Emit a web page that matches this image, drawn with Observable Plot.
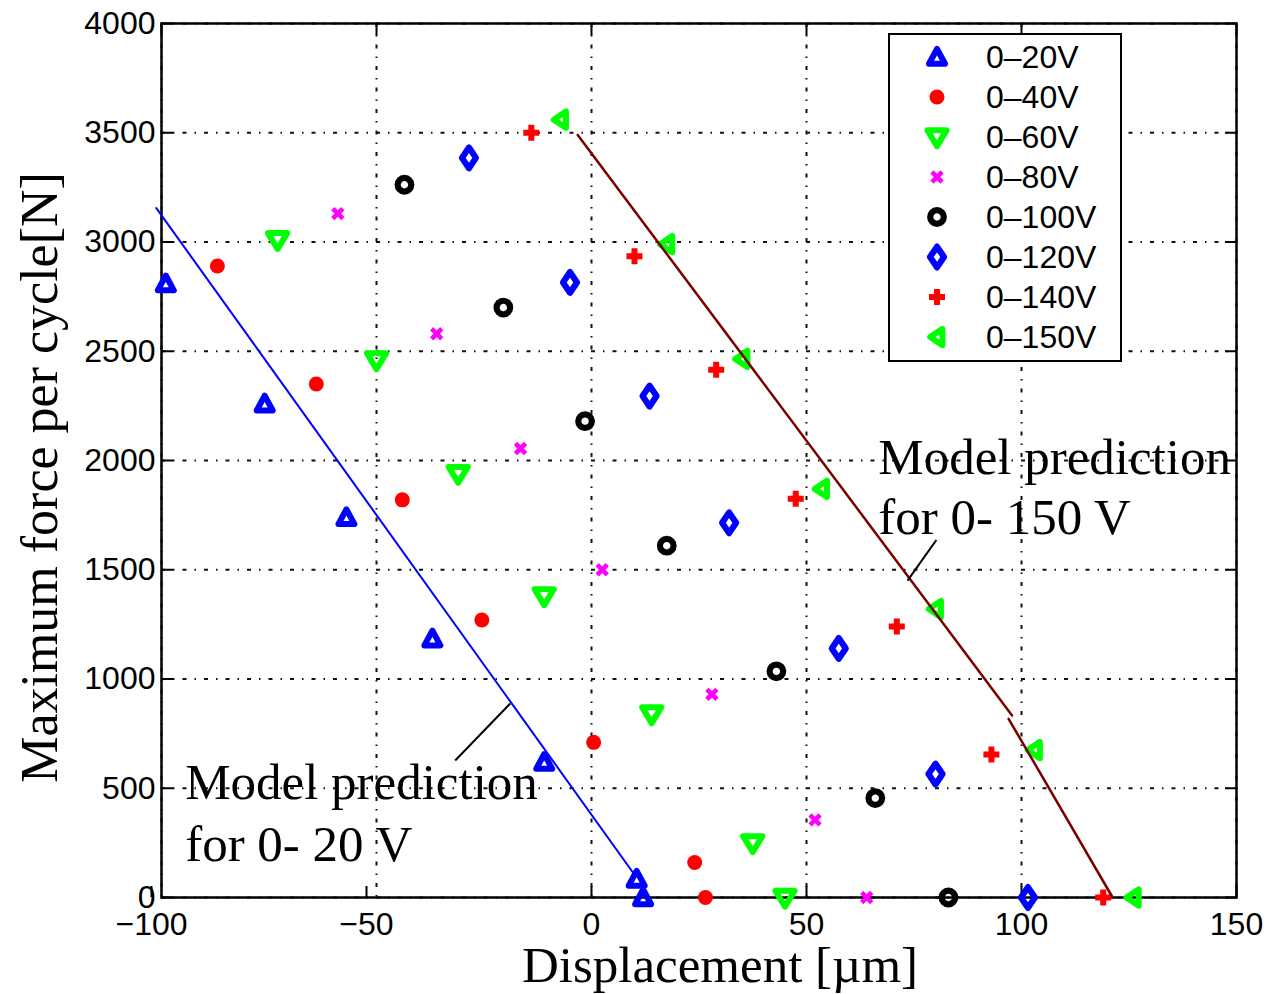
<!DOCTYPE html>
<html>
<head>
<meta charset="utf-8">
<script src="https://cdn.jsdelivr.net/npm/d3@7"></script>
<script src="https://cdn.jsdelivr.net/npm/@observablehq/plot@0.6"></script>
<style>
  html, body { margin: 0; padding: 0; background: #ffffff; }
  #wrap { position: relative; width: 1268px; height: 994px; overflow: hidden; }
  #legend { position: absolute; left: 888px; top: 33px; }
</style>
</head>
<body>
<div id="wrap"></div>
<script>
// ---------------- data ----------------
const seriesNames = ["0–20V", "0–40V", "0–60V", "0–80V", "0–100V", "0–120V", "0–140V", "0–150V"];

const disp_20V  = [-99, -76, -57, -37, -11, 10.5, 12];
const force_20V = [2810, 2260, 1740, 1185, 620, 85, 0];
const disp_40V  = [-87, -64, -44, -25.5, 0.5, 24, 26.5];
const force_40V = [2890, 2350, 1820, 1270, 710, 160, 0];
const disp_60V  = [-73, -50, -31, -11, 14, 37.5, 45];
const force_60V = [3010, 2460, 1940, 1380, 840, 250, 0];
const disp_80V  = [-59, -36, -16.5, 2.5, 28, 52, 64];
const force_80V = [3130, 2580, 2055, 1500, 930, 355, 0];
const disp_100V  = [-43.5, -20.5, -1.5, 17.5, 43, 66, 83];
const force_100V = [3262, 2700, 2180, 1610, 1035, 455, 0];
const disp_120V  = [-28.5, -5, 13.5, 32, 57.5, 80, 101.5];
const force_120V = [3385, 2815, 2295, 1715, 1140, 565, 0];
const disp_140V  = [-14, 10, 29, 47.5, 71, 93, 119];
const force_140V = [3500, 2935, 2415, 1825, 1240, 655, 0];
const disp_150V  = [-7.2, 17.5, 35, 53.5, 80, 103, 126];
const force_150V = [3560, 2990, 2465, 1870, 1320, 675, 0];

// model predictions
const model20_disp  = [-101.2, 9.8];
const model20_force = [3155, 110];
const model150_disp    = [-3.2, 97.8, 97.0, 121.2];
const model150_force   = [3490, 833, 818, 0];
const model150_segment = [0, 0, 1, 1];

// annotations
const noteText  = ["Model prediction", "for 0- 20 V", "Model prediction", "for 0- 150 V"];
const noteDisp  = [-94.5, -94.5, 66.7, 66.7];
const noteForce = [453, 169, 1940, 1665];
const leaderDisp1  = [-18.9, 80.2];
const leaderForce1 = [888, 1636];
const leaderDisp2  = [-31.7, 73.5];
const leaderForce2 = [627, 1450];

const xTicks = [-100, -50, 0, 50, 100, 150];
const yTicks = [0, 500, 1000, 1500, 2000, 2500, 3000, 3500, 4000];
const xLabel = "Displacement [µm]";
const yLabel = "Maximum force per cycle[N]";

// ---------------- styles ----------------
const dispSeries  = [disp_20V, disp_40V, disp_60V, disp_80V, disp_100V, disp_120V, disp_140V, disp_150V];
const forceSeries = [force_20V, force_40V, force_60V, force_80V, force_100V, force_120V, force_140V, force_150V];

function polySymbol(pts) {
  return {
    draw(ctx, size) {
      const r = Math.sqrt(size / Math.PI);
      ctx.moveTo(pts[0][0] * r, pts[0][1] * r);
      for (let k = 1; k < pts.length; k++) ctx.lineTo(pts[k][0] * r, pts[k][1] * r);
      ctx.closePath();
    }
  };
}
const symTriUp = polySymbol([[0, -1], [1, 0.85], [-1, 0.85]]);
const symTriDown = polySymbol([[0, 0.95], [1, -0.7], [-1, -0.7]]);
const symTriLeft = polySymbol([[-1, 0], [0.8, -1.2], [0.8, 1.2]]);
const symDiamond = polySymbol([[0, -1.48], [1, 0], [0, 1.48], [-1, 0]]);
const symCircle = { draw(ctx, size) { const r = Math.sqrt(size / Math.PI); ctx.moveTo(r, 0); ctx.arc(0, 0, r, 0, 2 * Math.PI); } };
const symPlus = { draw(ctx, size) { const r = Math.sqrt(size / Math.PI); ctx.moveTo(-r, 0); ctx.lineTo(r, 0); ctx.moveTo(0, -r); ctx.lineTo(0, r); } };
const symTimes = { draw(ctx, size) { const r = Math.sqrt(size / Math.PI); ctx.moveTo(-r, -r); ctx.lineTo(r, r); ctx.moveTo(-r, r); ctx.lineTo(r, -r); } };

const seriesSymbols = [symTriUp, symCircle, symTriDown, symTimes, symCircle, symDiamond, symPlus, symTriLeft];
const seriesColors  = ["#0000ff", "#ff0000", "#00ff00", "#ff00ff", "#000000", "#0000ff", "#ff0000", "#00ff00"];
const seriesFilled  = [false, true, false, false, false, false, false, false];
const seriesR       = [8, 7.5, 9.6, 3.4, 6.8, 7, 5, 6.8];
const seriesStrokeW = [6, 0, 6, 4.6, 6.2, 6.2, 6, 6];
const seriesCap     = ["round", "round", "round", "square", "round", "round", "square", "round"];

const tickFont = "'Liberation Sans', Arial, Helvetica, sans-serif";
const serifFont = "'Liberation Serif', 'Times New Roman', serif";
const fmt = d => d < 0 ? "\u2212" + Math.abs(d) : String(d);

// ---------------- tables ----------------
const rows = seriesNames.flatMap((name, i) =>
  dispSeries[i].map((d, j) => ({ series: name, idx: i, disp: d, force: forceSeries[i][j] })));
const model20 = model20_disp.map((d, j) => ({ disp: d, force: model20_force[j] }));
const model150 = model150_disp.map((d, j) => ({ disp: d, force: model150_force[j], seg: model150_segment[j] }));
const notes = noteText.map((t, j) => ({ text: t, disp: noteDisp[j], force: noteForce[j] }));
const leaders = leaderDisp1.map((d, j) => ({ x1: d, y1: leaderForce1[j], x2: leaderDisp2[j], y2: leaderForce2[j] }));

const dotMarks = seriesNames.map((name, i) => Plot.dot(rows.filter(r => r.idx === i), {
  x: "disp", y: "force",
  symbol: seriesSymbols[i],
  r: seriesR[i],
  fill: seriesFilled[i] ? seriesColors[i] : "none",
  stroke: seriesFilled[i] ? "none" : seriesColors[i],
  strokeWidth: seriesStrokeW[i],
  strokeLinejoin: "round",
  strokeLinecap: seriesCap[i]
}));

const chart = Plot.plot({
  width: 1268, height: 994,
  marginLeft: 161, marginRight: 32, marginTop: 23, marginBottom: 97,
  x: { domain: [-100, 150] },
  y: { domain: [0, 4000] },
  style: { background: "#ffffff", overflow: "visible" },
  marks: [
    Plot.gridX(xTicks, { stroke: "#111", strokeOpacity: 1, strokeWidth: 2, strokeDasharray: "4,8,1.5,8" }),
    Plot.gridY(yTicks, { stroke: "#111", strokeOpacity: 1, strokeWidth: 2, strokeDasharray: "4,8,1.5,8" }),
    Plot.frame({ stroke: "#000", strokeWidth: 2.5 }),
    Plot.axisX(xTicks.filter(d => d < 0), { anchor: "bottom", tickSize: -11, tickPadding: 26, dx: -10, tickFormat: fmt, fontSize: 32, fontFamily: tickFont, label: null, strokeWidth: 2 }),
    Plot.axisX(xTicks.filter(d => d >= 0), { anchor: "bottom", tickSize: -11, tickPadding: 26, tickFormat: fmt, fontSize: 32, fontFamily: tickFont, label: null, strokeWidth: 2 }),
    Plot.axisX(xTicks, { anchor: "top", tickSize: -11, tickFormat: () => "", label: null, strokeWidth: 2 }),
    Plot.axisY(yTicks, { anchor: "left", tickSize: -12, tickPadding: 18, tickFormat: fmt, fontSize: 32, fontFamily: tickFont, label: null, strokeWidth: 2 }),
    Plot.axisY(yTicks, { anchor: "right", tickSize: -12, tickFormat: () => "", label: null, strokeWidth: 2 }),
    ...dotMarks,
    Plot.line(model20, { x: "disp", y: "force", stroke: "#0000ff", strokeWidth: 2 }),
    Plot.line(model150, { x: "disp", y: "force", z: "seg", stroke: "#7a0000", strokeWidth: 2.5 }),
    Plot.link(leaders, { x1: "x1", y1: "y1", x2: "x2", y2: "y2", stroke: "#000", strokeWidth: 2 }),
    Plot.text(notes, { x: "disp", y: "force", text: "text", textAnchor: "start", lineAnchor: "bottom", fontSize: 51, fontFamily: serifFont, fill: "#000" }),
    Plot.text([xLabel], { text: d => d, frameAnchor: "bottom", dx: 21, dy: 84, lineAnchor: "bottom", textAnchor: "middle", fontSize: 51, fontFamily: serifFont, fill: "#000" }),
    Plot.text([yLabel], { text: d => d, frameAnchor: "left", rotate: -90, dx: -105, dy: 17, lineAnchor: "bottom", textAnchor: "middle", fontSize: 52, fontFamily: serifFont, fill: "#000" })
  ]
});

const wrap = document.getElementById("wrap");
wrap.appendChild(chart);

// ---------------- legend (overlay) ----------------
const legW = 234, legH = 329, rowTop = 24, rowStep = 40, symX = 49, txtX = 98;
const leg = d3.select(wrap).append("svg").attr("id", "legend").attr("width", legW).attr("height", legH);
leg.append("rect").attr("x", 1).attr("y", 1).attr("width", legW - 2).attr("height", legH - 2)
  .attr("fill", "#fff").attr("stroke", "#000").attr("stroke-width", 2);
seriesNames.forEach((name, i) => {
  const cy = rowTop + i * rowStep;
  leg.append("path")
    .attr("transform", `translate(${symX},${cy})`)
    .attr("d", d3.symbol().type(seriesSymbols[i]).size(seriesR[i] * seriesR[i] * Math.PI)())
    .attr("fill", seriesFilled[i] ? seriesColors[i] : "none")
    .attr("stroke", seriesFilled[i] ? "none" : seriesColors[i])
    .attr("stroke-width", seriesStrokeW[i])
    .attr("stroke-linejoin", "round")
    .attr("stroke-linecap", seriesCap[i]);
  leg.append("text").attr("x", txtX).attr("y", cy + 11)
    .attr("font-family", tickFont).attr("font-size", 32).attr("fill", "#000")
    .text(name);
});
</script>
</body>
</html>
